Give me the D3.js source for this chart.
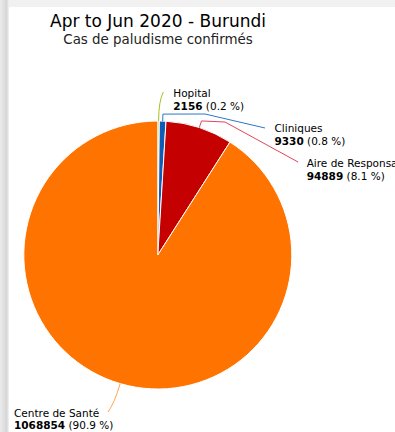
<!DOCTYPE html>
<html lang="fr">
<head>
<meta charset="utf-8">
<title>Apr to Jun 2020 - Burundi</title>
<script src="https://cdn.jsdelivr.net/npm/d3@7"></script>
<style>
  body { margin: 0; background: #f1f1f1; }
  svg { display: block; font-family: "DejaVu Sans", sans-serif; }
</style>
</head>
<body>
<script>
// data
var categories = ["Hopital", "Cliniques", "Aire de Responsabilité", "Centre de Santé"];
var values = [2156, 9330, 94889, 1068854];
var colors = ["#a3c20a", "#0f5bb5", "#c40000", "#ff7400"];
var connectorColors = ["#a8c020", "#2a78c8", "#e0465a", "#ffa552"];

var W = 395, H = 432;
var cx = 157.8, cy = 255, R = 134;

var svg = d3.select("body").append("svg")
  .attr("width", W)
  .attr("height", H);

// window frame bits
var defs = svg.append("defs");
var grad = defs.append("linearGradient").attr("id", "edge");
grad.append("stop").attr("offset", "0%").attr("stop-color", "#ececec");
grad.append("stop").attr("offset", "75%").attr("stop-color", "#d6d6d6");
grad.append("stop").attr("offset", "100%").attr("stop-color", "#f4f4f4");
svg.append("rect").attr("width", W).attr("height", H).attr("fill", "#f1f1f1");
svg.append("rect").attr("x", 0).attr("y", 0).attr("width", 9).attr("height", H).attr("fill", "url(#edge)");
svg.append("rect").attr("x", 9).attr("y", 7).attr("width", W - 9).attr("height", H - 7).attr("fill", "#fff");

svg.append("text")
  .attr("x", 158).attr("y", 27)
  .attr("text-anchor", "middle")
  .attr("font-size", 17)
  .attr("fill", "#000")
  .text("Apr to Jun 2020 - Burundi");

svg.append("text")
  .attr("x", 158).attr("y", 44)
  .attr("text-anchor", "middle")
  .attr("font-size", 13.4)
  .attr("fill", "#222")
  .text("Cas de paludisme confirmés");

var total = d3.sum(values);
var rows = categories.map(function(c, i) {
  return { name: c, value: values[i], color: colors[i], line: connectorColors[i] };
});

var pie = d3.pie().sort(null).value(function(d) { return d.value; });
var arcs = pie(rows);
var arc = d3.arc().innerRadius(0).outerRadius(R);

var g = svg.append("g").attr("transform", "translate(" + cx + "," + cy + ")");

g.selectAll("path.slice")
  .data(arcs)
  .enter().append("path")
  .attr("class", "slice")
  .attr("d", arc)
  .attr("fill", function(d) { return d.data.color; })
  .attr("stroke", "#fff")
  .attr("stroke-width", 1)
  .attr("stroke-linejoin", "round");

// label placement (layout only)
var labelLayout = [
  { x: 173.3, y: 97,  crook: null,           end: [163.3, 92],  curve: true },
  { x: 274.5, y: 132.3, crook: [205, 114],   end: [265, 128],   curve: false },
  { x: 306.7, y: 167.3, crook: [225, 122],   end: [298, 162],   curve: false },
  { x: 14,   y: 416.7, crook: null,          end: [108, 412],   curve: true }
];

function edgePoint(a, r) {
  return [cx + r * Math.sin(a), cy - r * Math.cos(a)];
}

arcs.forEach(function(d, i) {
  var L = labelLayout[i];
  var mid = (d.startAngle + d.endAngle) / 2;
  var p0 = edgePoint(mid, R);
  var p = d3.path();
  p.moveTo(p0[0], p0[1]);
  if (L.curve) {
    var p1 = edgePoint(mid, R + 20);
    p.quadraticCurveTo(p1[0], p1[1], L.end[0], L.end[1]);
  } else {
    var p1b = edgePoint(mid, R + 7);
    p.lineTo(p1b[0], p1b[1]);
    p.lineTo(L.crook[0], L.crook[1]);
    p.lineTo(L.end[0], L.end[1]);
  }
  svg.append("path")
    .attr("d", p.toString())
    .attr("fill", "none")
    .attr("stroke", d.data.line)
    .attr("stroke-width", 1);

  var t = svg.append("text")
    .attr("x", L.x).attr("y", L.y)
    .attr("font-size", 10.5)
    .attr("fill", "#000");
  t.append("tspan").attr("x", L.x).text(d.data.name);
  var t2 = t.append("tspan").attr("x", L.x).attr("dy", 12.7);
  t2.append("tspan").attr("font-weight", "bold").text(d.data.value);
  t2.append("tspan").text(" (" + d3.format(".1f")(d.data.value / total * 100) + " %)");
});
</script>
</body>
</html>
